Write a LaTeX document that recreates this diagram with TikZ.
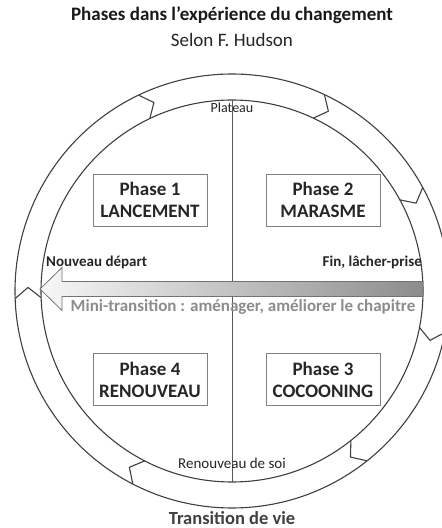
\documentclass[tikz,border=0pt]{standalone}
\usepackage{fontspec}
\setmainfont{Carlito}
\usetikzlibrary{calc}
\begin{document}
\begin{tikzpicture}[x=1pt,y=1pt,
  ring/.style={draw=black!75, line width=1.1pt, line join=round},
  axisline/.style={draw=black!65, line width=0.8pt},
  phasebox/.style={draw=black!50, line width=0.9pt, fill=white, minimum width=114pt, minimum height=52pt, align=center, inner sep=0pt, font=\fontsize{19}{22}\selectfont\bfseries, text=black!85},
  bigarrow/.style={draw=black!55, line width=0.8pt, left color=black!3, right color=black!45},
  titletext/.style={font=\fontsize{19}{22}\selectfont\bfseries, text=black!90, inner sep=0pt},
  subtext/.style={font=\fontsize{19}{22}\selectfont, text=black!85, inner sep=0pt},
  smalltext/.style={font=\fontsize{14}{16}\selectfont, text=black!85, inner sep=0pt},
  boldlabel/.style={font=\fontsize{15}{17}\selectfont\bfseries, text=black!85, inner sep=0pt},
  minitext/.style={font=\fontsize{17}{19}\selectfont\bfseries, text=black!45, inner sep=0pt},
  bottomtext/.style={font=\fontsize{18.5}{21}\selectfont\bfseries, text=black!75, inner sep=0pt}]
\useasboundingbox (0,0) rectangle (442,528);
\clip (0,0) rectangle (442,528);
\fill[white] (0,0) rectangle (442,528);
\coordinate (C) at (232,237);
% ring
\draw[ring] (C) circle[radius=217];
\draw[ring] (C) circle[radius=191];
\foreach \a in {115.5,64.8,28.5,-11,-51.5,-117.2,182}{
  \pgfmathsetmacro\b{\a-3}
  \draw[ring] ($(C)+(\a:217)$) -- ($(C)+(\b:204)$) -- ($(C)+(\a:191)$);
}
% vertical axis
\coordinate (vt) at ($(C)+(90:191)$);
\coordinate (vb) at ($(C)+(-90:191)$);
\draw[axisline] (vt) -- (vb);
% big arrow
\path[bigarrow] (423,231.5) -- (62,231.5) -- (62,217.5) -- (40,239) -- (62,260.5) -- (62,246.5) -- (423,246.5) -- cycle;
% boxes
\node[phasebox] (p1) at (150,328) {Phase 1\\LANCEMENT};
\node[phasebox] (p2) at (323,328) {Phase 2\\MARASME};
\node[phasebox] (p4) at (150,148.5) {Phase 4\\RENOUVEAU};
\node[phasebox] (p3) at (323,148.5) {Phase 3\\COCOONING};
% texts
\node[titletext] (title) at (232,513) {Phases dans l’expérience du changement};
\node[subtext] (sub) at (232,488) {Selon F. Hudson};
\node[smalltext] (plateau) at (232,420) {Plateau};
\node[smalltext, font=\fontsize{15}{17}\selectfont] (soi) at (232,65) {Renouveau de soi};
\node[boldlabel, anchor=west] (nd) at (46,266) {Nouveau départ};
\node[boldlabel, anchor=east] (fin) at (422,266) {Fin, lâcher-prise};
\node[minitext] (mini) at (243,221) {Mini-transition : aménager, améliorer le chapitre};
\node[bottomtext] (tv) at (232,10) {Transition de vie};
\end{tikzpicture}
\end{document}
